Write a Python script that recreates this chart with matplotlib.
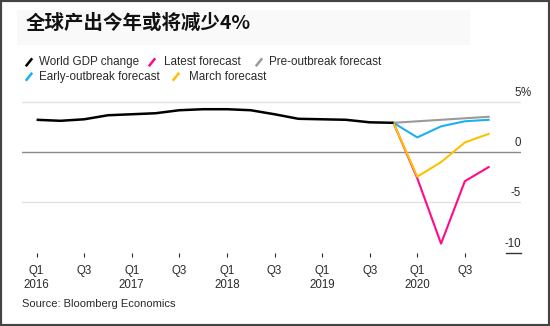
import matplotlib
matplotlib.use("Agg")
import matplotlib.pyplot as plt
from matplotlib.lines import Line2D
from matplotlib.patches import Rectangle
from matplotlib.transforms import offset_copy, blended_transform_factory

W, H = 550, 326

# quarters Q1 2016 .. Q4 2020
quarters = [f"Q{q} {y}" for y in range(2016, 2021) for q in range(1, 5)]

world_gdp = [3.2, 3.1, 3.25, 3.65, 3.75, 3.85, 4.15, 4.25, 4.25, 4.15,
             3.75, 3.3, 3.25, 3.2, 2.95, 2.9]          # Q1 2016 .. Q4 2019
fc_quarters = [15, 16, 17, 18, 19]                  # Q4 2019 .. Q4 2020
pre_outbreak = [2.9, 3.05, 3.2, 3.35, 3.5]
early_outbreak = [2.9, 1.45, 2.55, 3.05, 3.2]
march = [2.9, -2.45, -1.0, 0.95, 1.8]
latest = [2.9, -2.6, -9.1, -2.9, -1.5]

tick_labels = ["Q1\n2016", "Q3", "Q1\n2017", "Q3", "Q1\n2018", "Q3",
               "Q1\n2019", "Q3", "Q1\n2020", "Q3"]
y_levels = [5, 0, -5, -10]
y_labels = ["5", "0", "-5", "-10"]

title = "全球产出今年或将减少4%"
source = "Source: Bloomberg Economics"
legend_items = [("World GDP change", "#000000"), ("Latest forecast", "#ff0a8c"),
                ("Pre-outbreak forecast", "#9a9a9a"),
                ("Early-outbreak forecast", "#1cb0f0"), ("March forecast", "#ffc000")]

INK = "#2a2a2a"
plt.rcParams["font.family"] = ["Liberation Sans", "DejaVu Sans"]

fig = plt.figure(figsize=(W / 100, H / 100), dpi=100)
px = lambda x, y: (x / W, 1 - y / H)

# axes box in pixels: left 22, right 521, y=-10 at 252.7, y=6 at ~91.6
x0, x1, yb, yt = 22.3, 521.0, 252.7, 91.6
ax = fig.add_axes([x0 / W, 1 - yb / H, (x1 - x0) / W, (yb - yt) / H])
ax.set_xlim(-0.6, 20.36)
ax.set_ylim(-10, 6)
for s in ax.spines.values():
    s.set_visible(False)

# grid lines
ax.axhline(5, color="#e3e3e3", lw=1.0, zorder=0)
ax.axhline(-5, color="#e3e3e3", lw=1.0, zorder=0)
ax.axhline(0, color="#8a8a8a", lw=1.0, zorder=0)
ax.axhline(-10, xmin=0.969, xmax=1.0, color="#333333", lw=1.0, clip_on=False)

# y labels above the lines, at the right
tr = blended_transform_factory(ax.transAxes, ax.transData)
for v, lab in zip(y_levels, y_labels):
    t = offset_copy(tr, fig=fig, x=0, y=4.3, units="points")
    ax.text(1.0, v, lab, transform=t, ha="right", va="baseline",
            fontsize=8.3, color=INK, clip_on=False)
    if v == 5:
        ax.text(1.0, v, "%", transform=t, ha="left", va="baseline",
                fontsize=8.3, color=INK, clip_on=False)

# data lines
gdp_x = list(range(len(world_gdp)))
ax.plot(fc_quarters, pre_outbreak, color="#9a9a9a", lw=1.5, zorder=2)
ax.plot(fc_quarters, early_outbreak, color="#1cb0f0", lw=1.5, zorder=3)
ax.plot(fc_quarters, latest, color="#ff0a8c", lw=1.5, zorder=4)
ax.plot(fc_quarters, march, color="#ffc000", lw=1.5, zorder=5)
ax.plot(gdp_x, world_gdp, color="#000000", lw=1.8, zorder=6,
        solid_joinstyle="round", solid_capstyle="butt")

# x ticks
ax.set_xticks(range(0, 20, 2))
ax.set_xticklabels(tick_labels, fontsize=8.3, color=INK, linespacing=1.32)
ax.tick_params(axis="x", length=3, width=0.8, color=INK, pad=5.5)
ax.set_yticks([])

# title with faint box
fig.add_artist(Rectangle(px(17.5, 45), 452 / W, 35 / H, transform=fig.transFigure,
                         facecolor="#f9f9f9", edgecolor="none", zorder=0))
fig.text(*px(25.5, 23.5), title, fontsize=14, fontweight="bold", va="center",
         ha="left", color="#111111", family=["Noto Sans CJK SC", "DejaVu Sans"])

# legend (manual, slash markers)
legend_pos = [(29, 62.3, 38.6), (152, 62.3, 164), (259, 62.3, 269.4),
              (29, 76.7, 38.6), (176, 76.7, 188.7)]
for (label, color), (sx, sy, tx) in zip(legend_items, legend_pos):
    a = px(sx - 3.2, sy + 4)
    b = px(sx + 3.2, sy - 4)
    fig.add_artist(Line2D([a[0], b[0]], [a[1], b[1]], transform=fig.transFigure,
                          color=color, lw=1.8, solid_capstyle="butt"))
    fig.text(*px(tx, sy), label, fontsize=8.4, va="center", ha="left", color=INK)

fig.text(*px(22.5, 304), source, fontsize=8, va="center", ha="left", color=INK)

# outer frame
fig.add_artist(Rectangle((0, 0), 1, 1, transform=fig.transFigure, fill=False,
                         edgecolor="#444444", lw=3))

fig.savefig("out.png", dpi=100)
